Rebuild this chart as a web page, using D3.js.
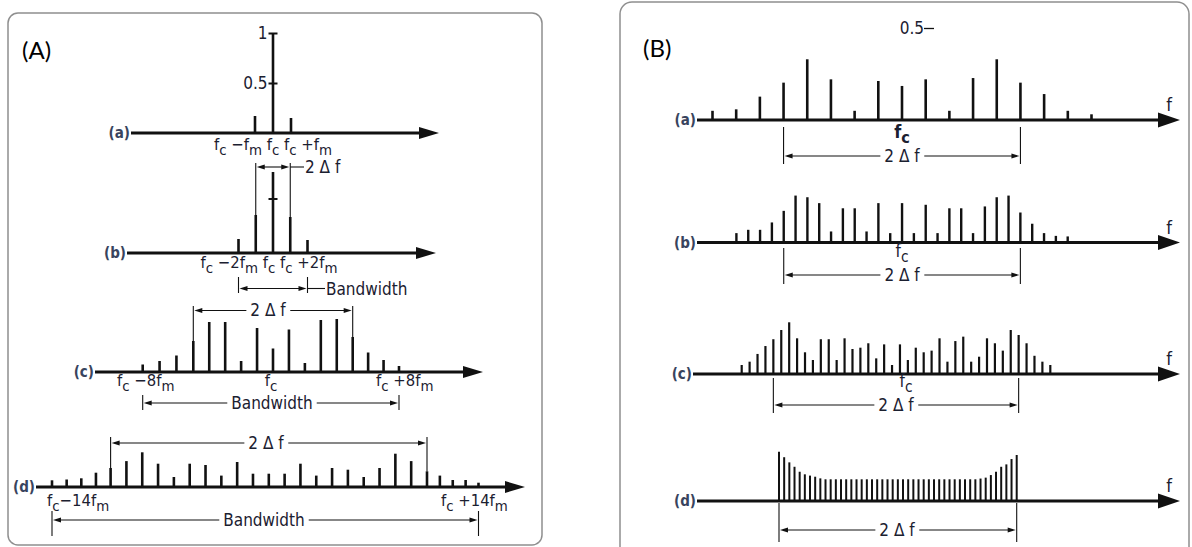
<!DOCTYPE html>
<html><head><meta charset="utf-8">
<script src="https://cdn.jsdelivr.net/npm/d3@7"></script>
<style>body{margin:0;background:#fff}svg{display:block}text{white-space:pre;font-stretch:condensed}</style>
</head><body><svg id="c" width="1192" height="547"></svg>
<script>
// ---------- DATA ----------
// Panel A: sideband amplitudes, lowest order to highest order (carrier in the middle)
const A_a = [0.17, 1.00, 0.15];
const A_b = [0.14, 0.38, 0.81, 0.36, 0.13];
const A_c = [0.075, 0.11, 0.165, 0.31, 0.50, 0.50, 0.11, 0.44, 0.235, 0.425, 0.09, 0.52, 0.53, 0.35, 0.195, 0.12, 0.06];
const A_d = [0.067, 0.075, 0.087, 0.143, 0.19, 0.259, 0.347, 0.233, 0.10, 0.233, 0.22, 0.114, 0.25, 0.133, 0.133,
             0.133, 0.233, 0.114, 0.19, 0.173, 0.10, 0.19, 0.333, 0.259, 0.157, 0.114, 0.07, 0.07, 0.043];
// Panel B
const B_a = [0.05, 0.058, 0.127, 0.203, 0.33, 0.221, 0.05, 0.212, 0.185, 0.221, 0.05, 0.228, 0.33, 0.203, 0.141, 0.05, 0.031];
const B_b = [0.051, 0.069, 0.069, 0.109, 0.172, 0.255, 0.246, 0.214, 0.06, 0.186, 0.186, 0.06, 0.214, 0.051, 0.214,
             0.051, 0.205, 0.051, 0.186, 0.186, 0.051, 0.196, 0.246, 0.255, 0.163, 0.102, 0.051, 0.036, 0.033];
const B_c = [0.049, 0.067, 0.109, 0.152, 0.189, 0.239, 0.281, 0.194, 0.118, 0.076, 0.189, 0.189, 0.076, 0.194, 0.136,
             0.143, 0.167, 0.085, 0.161, 0.049, 0.161, 0.076, 0.143, 0.118, 0.127, 0.194, 0.067, 0.179, 0.203, 0.067,
             0.094, 0.194, 0.167, 0.127, 0.239, 0.212, 0.167, 0.099, 0.067, 0.049];
const B_d = [0.268, 0.238, 0.21, 0.186, 0.159, 0.145, 0.138, 0.132, 0.123,
             0.118, 0.118, 0.118, 0.118, 0.118, 0.118, 0.118, 0.118, 0.118, 0.118,
             0.118, 0.118, 0.118, 0.118, 0.118, 0.118, 0.118, 0.118, 0.118, 0.118,
             0.118, 0.118, 0.118, 0.118, 0.118, 0.118, 0.118, 0.118, 0.118, 0.118,
             0.122, 0.127, 0.141, 0.159, 0.186, 0.199, 0.228, 0.25];
// tick values / labels
const A_aTicks = [0.5, 1];
const A_aTickLabels = ["0.5", "1"];
const A_bTicks = [0.545];
const B_aTicks = [0.5];
const B_aTickLabels = ["0.5"];
// row labels and frequency labels
const rowLabels = ["(a)", "(b)", "(c)", "(d)"];
const panelLabels = ["(A)", "(B)"];
const A_aFreq = "f_c −f_m f_c f_c +f_m";
const A_bFreq = "f_c −2f_m f_c f_c +2f_m";
const A_cFreq = ["f_c −8f_m", "f_c", "f_c +8f_m"];
const A_dFreq = ["f_c−14f_m", "f_c +14f_m"];
const carrierLabel = "f_c";
const devLabel = "2 Δ f";
const bwLabel = "Bandwidth";
const axisName = "f";

// ---------- DRAWING ----------
const svg = d3.select('#c');
const FONT = "'DejaVu Sans Condensed','Liberation Sans Narrow','DejaVu Sans',sans-serif";
const INK = '#111';
const TXT = '#1b2030';
const LBL = '#39445e';

svg.append('rect').attr('x', 8).attr('y', 13).attr('width', 534).attr('height', 532).attr('rx', 10)
  .attr('fill', 'none').attr('stroke', '#8f8f8f').attr('stroke-width', 1.5);
svg.append('rect').attr('x', 620).attr('y', 2).attr('width', 569).attr('height', 600).attr('rx', 12)
  .attr('fill', 'none').attr('stroke', '#8f8f8f').attr('stroke-width', 1.5);

svg.append('text').attr('x', 22).attr('y', 59).attr('font-family', 'Lato, "Open Sans", sans-serif')
  .style('font-stretch', 'normal').attr('font-size', 24).attr('fill', '#000').text(panelLabels[0]);
svg.append('text').attr('x', 643).attr('y', 57).attr('font-family', 'Lato, "Open Sans", sans-serif')
  .style('font-stretch', 'normal').attr('font-size', 24).attr('fill', '#000').text(panelLabels[1]);

function rich(g, str, x, y, anchor, size, weight) {
  const t = g.append('text').attr('x', x).attr('y', y).attr('text-anchor', anchor)
    .attr('font-family', FONT).attr('font-size', size).attr('fill', TXT).attr('font-weight', weight || 'normal');
  const parts = []; let buf = '';
  for (let k = 0; k < str.length; k++) {
    if (str[k] === '_') { if (buf) parts.push([buf, false]); buf = ''; parts.push([str[k + 1], true]); k++; }
    else buf += str[k];
  }
  if (buf) parts.push([buf, false]);
  let inSub = false;
  const sh = size * 0.28;
  parts.forEach(([s, sub]) => {
    const ts = t.append('tspan').text(s);
    if (sub) { ts.attr('font-size', size * 0.9); if (!inSub) { ts.attr('dy', sh); inSub = true; } }
    else if (inSub) { ts.attr('dy', -sh); inSub = false; }
  });
  return t;
}

function row(cfg, values, label) {
  const g = svg.append('g');
  const n = values.length;
  const x = d3.scaleLinear().domain(cfg.dom || [0, n - 1]).range(cfg.rng);
  const y = d3.scaleLinear().domain([0, 1]).range([cfg.y, cfg.y - cfg.unit]);
  g.append('line').attr('x1', cfg.x0).attr('x2', cfg.x1 - cfg.ah + 2).attr('y1', cfg.y).attr('y2', cfg.y)
    .attr('stroke', INK).attr('stroke-width', cfg.aw);
  g.append('path').attr('d', `M${cfg.x1},${cfg.y}L${cfg.x1 - cfg.ah},${cfg.y - cfg.hw}L${cfg.x1 - cfg.ah},${cfg.y + cfg.hw}Z`)
    .attr('fill', INK);
  g.selectAll(null).data(values).join('line')
    .attr('x1', (d, i) => x(i)).attr('x2', (d, i) => x(i))
    .attr('y1', cfg.y).attr('y2', d => y(d))
    .attr('stroke', INK).attr('stroke-width', cfg.bw);
  g.append('text').attr('x', cfg.x0 - 1).attr('y', cfg.y + 5).attr('text-anchor', 'end')
    .attr('font-family', FONT).attr('font-size', 15).attr('font-weight', 'bold').attr('fill', LBL).text(label);
  return { g, x, y };
}

function arrowHead(g, xt, y, dir) {
  g.append('path').attr('d', `M${xt},${y}L${xt - dir * 8},${y - 2.6}L${xt - dir * 8},${y + 2.6}Z`).attr('fill', INK);
}

// dimension bracket: verticals at xa, xb; arrows pointing outward
function bracket(g, xa, xb, ya, va, vb, label, mode, tx, tb) {
  g.append('line').attr('x1', xa).attr('x2', xa).attr('y1', va[0]).attr('y2', va[1]).attr('stroke', INK).attr('stroke-width', 1.1);
  g.append('line').attr('x1', xb).attr('x2', xb).attr('y1', vb[0]).attr('y2', vb[1]).attr('stroke', INK).attr('stroke-width', 1.1);
  g.append('line').attr('x1', xa + 4).attr('x2', xb - 4).attr('y1', ya).attr('y2', ya).attr('stroke', INK).attr('stroke-width', 1.1);
  arrowHead(g, xa + 1, ya, -1);
  arrowHead(g, xb - 1, ya, 1);
  if (mode === 'mid') {
    const t = g.append('text').attr('x', tx).attr('y', tb).attr('text-anchor', 'middle')
      .attr('font-family', FONT).attr('font-size', 17).attr('fill', TXT).text(label);
    const bb = t.node().getBBox();
    g.insert('rect', () => t.node()).attr('x', bb.x - 4).attr('y', ya - 2).attr('width', bb.width + 8).attr('height', 4).attr('fill', '#fff');
  } else {
    g.append('line').attr('x1', xb).attr('x2', tx - 1).attr('y1', ya).attr('y2', ya).attr('stroke', INK).attr('stroke-width', 1.1);
    g.append('text').attr('x', tx).attr('y', tb).attr('font-family', FONT).attr('font-size', 17).attr('fill', TXT).text(label);
  }
}

// ----- Panel A -----
const aBase = { unit: 100, aw: 3, bw: 2.6, ah: 20, hw: 6 };
const Aa = row(Object.assign({ y: 133, x0: 131, x1: 439, rng: [255, 291] }, aBase), A_a, rowLabels[0]);
const Ab = row(Object.assign({ y: 253, x0: 127, x1: 436, rng: [238.5, 307.5] }, aBase), A_b, rowLabels[1]);
const Ac = row(Object.assign({ y: 372, x0: 95, x1: 483, dom: [0, 3, 13, 16], rng: [142.7, 193.3, 352.7, 399] }, aBase), A_c, rowLabels[2]);
const Ad = row(Object.assign({ y: 487, x0: 36, x1: 525, dom: [0, 4, 24, 28], rng: [52, 110.6, 427, 478.5] }, aBase), A_d, rowLabels[3]);

// y ticks on the carrier of (a) and (b)
function carrierAxis(r, ticks, labels, xPos, size, tsize, pad) {
  const ax = d3.axisLeft(r.y).tickValues(ticks).tickSize(-tsize).tickPadding(pad)
    .tickFormat((d, i) => labels ? labels[i] : '');
  const ag = r.g.append('g').attr('transform', `translate(${xPos},0)`).call(ax);
  ag.select('.domain').remove();
  ag.selectAll('.tick line').attr('stroke', INK).attr('stroke-width', 2);
  ag.selectAll('.tick text').attr('font-family', FONT).attr('font-size', size).attr('fill', TXT);
  return ag;
}
carrierAxis(Aa, A_aTicks, A_aTickLabels, Aa.x(1) - 4.5, 17, 9, 1);
carrierAxis(Ab, A_bTicks, null, Ab.x(2) - 4.5, 17, 9, 1);

rich(Aa.g, A_aFreq, 273, 150, 'middle', 16.5);
rich(Ab.g, A_bFreq, 269, 268, 'middle', 16.5);
rich(Ac.g, A_cFreq[0], 117, 386, 'start', 16.5);
rich(Ac.g, A_cFreq[1], Ac.x(8) - 2, 386, 'middle', 16.5);
rich(Ac.g, A_cFreq[2], 376, 386, 'start', 16.5);
rich(Ad.g, A_dFreq[0], 47, 506, 'start', 16.5);
rich(Ad.g, A_dFreq[1], 441, 506, 'start', 16.5);

bracket(Ab.g, Ab.x(1), Ab.x(3), 167, [163, Ab.y(A_b[1])], [163, Ab.y(A_b[3])], devLabel, 'side', 305, 173);
bracket(Ab.g, Ab.x(0), Ab.x(4), 288.5, [277, 293], [277, 293], bwLabel, 'side', 326, 295);
bracket(Ac.g, Ac.x(3), Ac.x(13), 310.5, [306, Ac.y(A_c[3])], [306, Ac.y(A_c[13])], devLabel, 'mid', 268, 316);
bracket(Ac.g, Ac.x(0), Ac.x(16), 403, [395, 410], [395, 410], bwLabel, 'mid', 272, 409);
bracket(Ad.g, Ad.x(4), Ad.x(24), 443, [437, Ad.y(A_d[4])], [437, Ad.y(A_d[24])], devLabel, 'mid', 266, 449);
bracket(Ad.g, Ad.x(0), Ad.x(28), 520, [511, 536], [511, 536], bwLabel, 'mid', 264, 526);

// ----- Panel B -----
const bcfg = { x1: 1180, unit: 184, aw: 3, ah: 22, hw: 7.5 };
const Ba = row(Object.assign({ y: 120, x0: 697, rng: [712.5, 1091.5], bw: 2.6 }, bcfg), B_a, rowLabels[0]);
const Bb = row(Object.assign({ y: 242.5, x0: 697, rng: [736.4, 1067.7], bw: 2.4 }, bcfg), B_b, rowLabels[1]);
const Bc = row(Object.assign({ y: 374, x0: 693, rng: [741.7, 1050.3], bw: 2.2 }, bcfg), B_c, rowLabels[2]);
const Bd = row(Object.assign({ y: 501, x0: 697, rng: [779, 1016.7], bw: 2 }, bcfg), B_d, rowLabels[3]);

const bTick = carrierAxis(Ba, B_aTicks, B_aTickLabels, Ba.x(8) + 22, 17, 10, 0);
bTick.selectAll('.tick line').attr('stroke-width', 1.3);

[Ba, Bb, Bc, Bd].forEach(r => {
  r.g.append('text').attr('x', 1169).attr('y', r.y(0) - 9).attr('text-anchor', 'middle')
    .attr('font-family', FONT).attr('font-size', 18).attr('fill', TXT).text(axisName);
});
rich(Ba.g, carrierLabel, Ba.x(8), 138, 'middle', 18, 'bold');
rich(Bb.g, carrierLabel, Bb.x(14), 257, 'middle', 17);
rich(Bc.g, carrierLabel, 906, 387, 'middle', 17);

bracket(Ba.g, Ba.x(3), Ba.x(13), 156, [127, 164], [127, 164], devLabel, 'mid', Ba.x(8), 162);
bracket(Bb.g, Bb.x(4), Bb.x(24), 275, [248, 284], [248, 284], devLabel, 'mid', Bb.x(14), 281);
bracket(Bc.g, Bc.x(4), Bc.x(35), 405, [378, 413], [378, 413], devLabel, 'mid', 896, 411);
bracket(Bd.g, Bd.x(0), Bd.x(46), 530, [503, 542], [503, 542], devLabel, 'mid', 897, 536);
</script></body></html>
